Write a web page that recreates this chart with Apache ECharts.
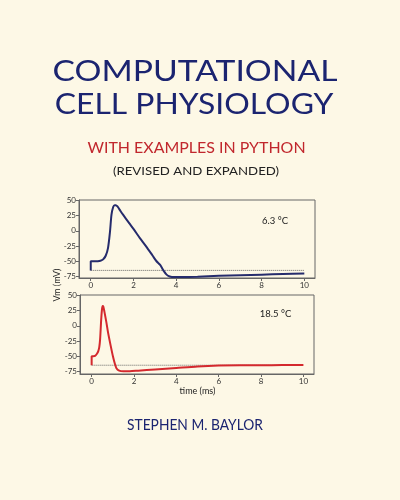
<!DOCTYPE html>
<html><head><meta charset="utf-8">
<script src="https://cdn.jsdelivr.net/npm/echarts@6/dist/echarts.min.js"></script>
<style>html,body{margin:0;padding:0;background:#FDF8E6;}#c{width:400px;height:500px;}</style>
</head><body><div id="c"></div>
<script>
// Top panel (6.3 °C)
const tCold = [0,0,0.1,0.27,0.4,0.5,0.58,0.7,0.81,0.9,0.97,1.05,1.12,1.17,1.25,1.4,1.52,1.8,2.0,2.3,2.6,2.9,3.08,3.25,3.4,3.55,3.7,3.9,4.2,5,6,7,8,9,10];
const vCold = [-65,-50,-50,-50,-49.5,-48.5,-47,-41,-28,-2,26,39,42,42,40,32,26,12.5,3,-12,-26,-41,-50,-56,-65,-72,-75,-76,-76,-75.5,-74,-73,-72,-71,-70];
// Bottom panel (18.5 °C)
const tWarm = [0,0,0.08,0.16,0.25,0.31,0.36,0.4,0.45,0.49,0.52,0.55,0.6,0.7,0.78,0.9,1.01,1.1,1.17,1.3,1.5,1.8,2.2,3,4,5,6,7,8,9,10];
const vWarm = [-65,-50,-50,-49.5,-46,-42,-35,-22,10,28,33,32,24,5,-12,-33,-51,-63,-70,-74,-75,-75,-74,-72,-69.5,-67,-65.5,-65,-65,-64.8,-64.5];
const restT = [0,10];
const restV = [-65,-65];
const yTicks = [-75,-50,-25,0,25,50];
const xTicks = [0,2,4,6,8,10];
const panelLabels = ['6.3 °C','18.5 °C'];

const F = 'Lato';
const chart = echarts.init(document.getElementById('c'));
function pairs(t,v){return t.map((x,i)=>[x,v[i]]);}
function xAx(gi){return {type:'value',gridIndex:gi,min:-0.55,max:10.5,
  axisLine:{show:true,onZero:false,lineStyle:{color:'#666'}},splitLine:{show:false},
  axisTick:{show:true,inside:false,length:3,customValues:xTicks,lineStyle:{color:'#666'}},
  axisLabel:{customValues:xTicks,fontSize:8,color:'#333',fontFamily:F,margin:3}};}
function yAx(gi,mn,mx){return {type:'value',gridIndex:gi,min:mn,max:mx,
  axisLine:{show:true,onZero:false,lineStyle:{color:'#666'}},splitLine:{show:false},
  axisTick:{show:true,inside:false,length:3,customValues:yTicks,lineStyle:{color:'#666'}},
  axisLabel:{customValues:yTicks,fontSize:8,color:'#333',fontFamily:F,margin:3}};}
const txt=(t,x,y,size,color,extra)=>Object.assign({type:'text',x:x,y:y,style:{text:t,fontSize:size,fill:color,fontFamily:F,textAlign:'center',textVerticalAlign:'middle'}},extra||{});
chart.setOption({
  backgroundColor:'#FDF8E6',
  animation:false,
  grid:[
    {left:79,top:200,width:236,height:78,show:true,borderColor:'#666',borderWidth:1,backgroundColor:'transparent'},
    {left:80,top:295,width:234,height:79,show:true,borderColor:'#666',borderWidth:1,backgroundColor:'transparent'}
  ],
  xAxis:[xAx(0),xAx(1)],
  yAxis:[yAx(0,-77.5,50.5),yAx(1,-79.5,51)],
  series:[
    {type:'line',xAxisIndex:0,yAxisIndex:0,data:pairs(restT,restV),symbol:'none',lineStyle:{type:'dotted',color:'#666',width:1}},
    {type:'line',xAxisIndex:0,yAxisIndex:0,data:pairs(tCold,vCold),symbol:'none',smooth:0.25,lineStyle:{color:'#252B6C',width:2}},
    {type:'line',xAxisIndex:1,yAxisIndex:1,data:pairs(restT,restV),symbol:'none',lineStyle:{type:'dotted',color:'#666',width:1}},
    {type:'line',xAxisIndex:1,yAxisIndex:1,data:pairs(tWarm,vWarm),symbol:'none',smooth:0.25,lineStyle:{color:'#D4292E',width:2}}
  ],
  graphic:[
    txt('COMPUTATIONAL',195,72,29,'#1B2470',{scaleX:1.16}),
    txt('CELL PHYSIOLOGY',194,105,29,'#1B2470',{scaleX:1.1}),
    txt('WITH EXAMPLES IN PYTHON',196.5,148.5,14.5,'#C1272D',{scaleX:1.1}),
    txt('(REVISED AND EXPANDED)',196,171.5,11,'#222',{scaleX:1.2}),
    txt('STEPHEN M. BAYLOR',195,425.5,14.5,'#1B2470',{scaleX:0.95}),
    txt(panelLabels[0],275,221,9.5,'#222'),
    txt(panelLabels[1],275.5,313.7,9.5,'#222'),
    txt('time (ms)',197.5,391,9,'#222'),
    txt('Vm (mV)',57,285,9,'#222',{rotation:Math.PI/2})
  ]
});
</script></body></html>
